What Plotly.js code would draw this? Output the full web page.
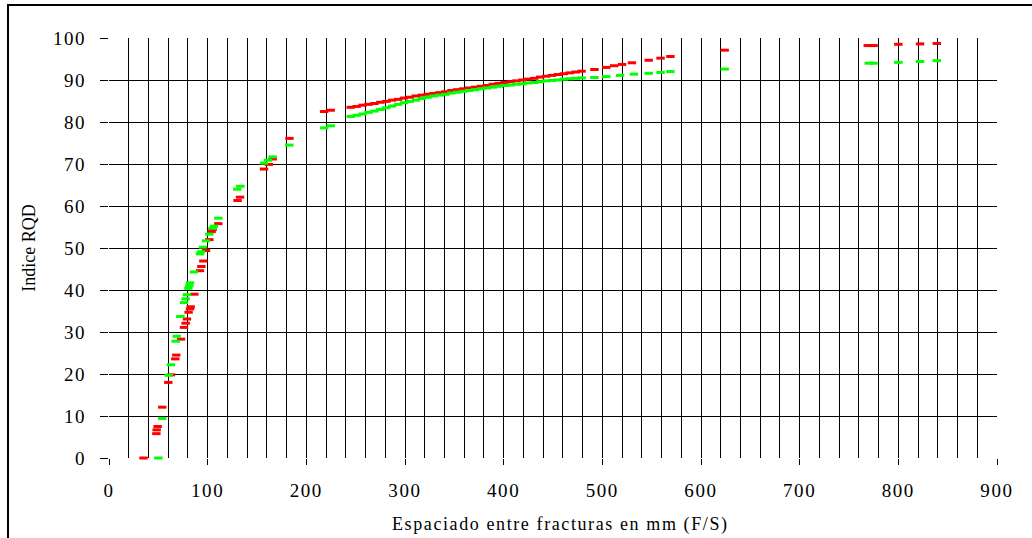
<!DOCTYPE html>
<html>
<head>
<meta charset="utf-8">
<script src="https://cdn.plot.ly/plotly-3.0.1.min.js"></script>
<style>
  html, body { margin: 0; padding: 0; background: #fff; }
  #chart { width: 1032px; height: 538px; }
  .xtick text, .ytick text, .annotation-text { letter-spacing: 1.6px; }
</style>
</head>
<body>
<div id="chart"></div>
<script>
// Series 1 (red)
const redX = [35, 48, 48.3, 49.3, 54, 60.1, 62.8, 67.2, 68.2, 73, 76, 77.7, 79, 80.7, 82.1, 82.8, 86.5, 92.2, 93.6, 95.6, 98.3, 101.7, 104, 105, 110.8, 130.3, 132.8, 157.1, 162, 165.9, 182.9, 218, 224.7,
  245, 251, 257, 263, 269, 275, 281, 287, 293, 299, 305, 311, 317, 323, 329, 335, 341, 347, 353, 359, 365, 371, 377, 383, 389, 395, 401, 407, 413, 419, 425, 431, 437, 443, 449, 455, 461, 467, 473, 479,
  492, 504, 512, 520, 530, 547, 559, 569, 624, 769, 775, 800, 822, 839];
const redY = [0, 5.8, 6.7, 7.5, 12.1, 18.0, 19.8, 23.6, 24.5, 28.3, 31.1, 32.1, 33.1, 34.7, 35.5, 36.0, 39.0, 44.6, 45.6, 46.9, 49.4, 52.0, 53.9, 54.4, 55.8, 61.3, 62.1, 68.8, 69.9, 71.2, 76.1, 82.5, 82.8,
  83.5, 83.7, 84.0, 84.2, 84.4, 84.7, 84.9, 85.2, 85.4, 85.7, 85.9, 86.2, 86.4, 86.6, 86.8, 87.0, 87.2, 87.5, 87.7, 87.9, 88.1, 88.3, 88.5, 88.7, 89.0, 89.2, 89.4, 89.6, 89.8, 90.0, 90.2, 90.4, 90.7, 90.9, 91.1, 91.3, 91.5, 91.7, 91.9, 92.1,
  92.5, 93.0, 93.4, 93.7, 94.1, 94.7, 95.2, 95.6, 97.1, 98.2, 98.2, 98.5, 98.6, 98.7];

// Series 2 (green)
const greenX = [50, 54, 60.5, 62.8, 67.6, 68.6, 72.3, 76, 77.7, 79, 80.4, 81.4, 82.1, 86.1, 92.2, 93.2, 95.3, 98.3, 101.7, 105, 106.4, 110.8, 130, 133.1, 157.1, 161.1, 165.9, 182.8, 218, 224.7,
  245, 251, 257, 263, 269, 275, 281, 287, 293, 299, 305, 311, 317, 323, 329, 335, 341, 347, 353, 359, 365, 371, 377, 383, 389, 395, 401, 407, 413, 419, 425, 431, 437, 443, 449, 455, 461, 467, 473, 479,
  492, 504, 518, 532, 547, 559, 569, 624, 770, 775, 800, 822, 839];
const greenY = [0, 9.4, 19.7, 22.2, 27.8, 29.0, 33.7, 37.0, 37.9, 38.9, 40.4, 41.0, 41.7, 44.3, 48.6, 49.1, 50.2, 51.7, 53.3, 54.7, 55.2, 57.1, 64.0, 64.7, 70.2, 70.9, 71.7, 74.5, 78.6, 79.1,
  81.3, 81.6, 81.9, 82.3, 82.6, 83.0, 83.4, 83.8, 84.2, 84.6, 84.9, 85.2, 85.6, 85.9, 86.2, 86.4, 86.6, 86.9, 87.1, 87.3, 87.5, 87.7, 87.9, 88.1, 88.3, 88.5, 88.7, 88.8, 89.0, 89.1, 89.3, 89.4, 89.6, 89.8, 89.9, 90.0, 90.2, 90.3, 90.4, 90.5,
  90.6, 90.8, 91.1, 91.4, 91.6, 91.8, 92.0, 92.6, 94.0, 94.0, 94.2, 94.4, 94.6];

const xTitle = 'Espaciado entre fracturas en mm (F/S)';
const yTitle = 'Indice RQD';

const FONT = 'Liberation Serif, Times New Roman, serif';

const markerBase = (c) => ({ symbol: 'line-ew', size: 6, line: { width: 3, color: c }, color: c });

const traces = [
  { x: redX, y: redY, type: 'scatter', mode: 'markers', marker: markerBase('#FF0000'), cliponaxis: false, showlegend: false, hoverinfo: 'x+y' },
  { x: greenX, y: greenY, type: 'scatter', mode: 'markers', marker: markerBase('#00FF00'), cliponaxis: false, showlegend: false, hoverinfo: 'x+y' }
];

const L = 109, R = 997, T = 38, B = 458;
const W = R - L, H = B - T;
const px = (p) => (p - L) / W;
const py = (p) => (B - p) / H;

const layout = {
  width: 1032, height: 538,
  margin: { l: L, r: 1032 - R, t: T, b: 538 - B, pad: 0 },
  paper_bgcolor: '#ffffff', plot_bgcolor: '#ffffff',
  font: { family: FONT, size: 19, color: '#000' },
  xaxis: {
    range: [0, 900], dtick: 100, tick0: 0,
    showgrid: true, gridcolor: '#000', gridwidth: 1,
    minor: { dtick: 20, showgrid: true, gridcolor: '#000', gridwidth: 1, ticks: '' },
    ticks: 'outside', ticklen: 6, tickcolor: '#000', tickwidth: 1,
    ticklabelstandoff: 9,
    zeroline: false, showline: false,
    tickfont: { family: FONT, size: 19, color: '#000' },
    fixedrange: true
  },
  yaxis: {
    range: [0, 100], dtick: 10, tick0: 0,
    showgrid: true, gridcolor: '#000', gridwidth: 1,
    ticks: 'outside', ticklen: 8, tickcolor: '#000', tickwidth: 1,
    ticklabelstandoff: 10,
    zeroline: false, showline: false,
    tickfont: { family: FONT, size: 19, color: '#000' },
    title: { text: yTitle, font: { family: FONT, size: 18, color: '#000' }, standoff: 12 },
    fixedrange: true
  },
  annotations: [
    { text: xTitle, xref: 'paper', yref: 'paper', x: px(560), y: py(524), xanchor: 'center', yanchor: 'middle', showarrow: false, font: { family: FONT, size: 18, color: '#000' } }
  ],
  shapes: [
    { type: 'line', xref: 'paper', yref: 'paper', x0: px(8), x1: px(8), y0: py(4), y1: py(540), line: { color: '#000', width: 2 } },
    { type: 'line', xref: 'paper', yref: 'paper', x0: px(7), x1: px(1034), y0: py(5), y1: py(5), line: { color: '#000', width: 2 } }
  ]
};

Plotly.newPlot('chart', traces, layout, { displayModeBar: false, staticPlot: true });
</script>
</body>
</html>
